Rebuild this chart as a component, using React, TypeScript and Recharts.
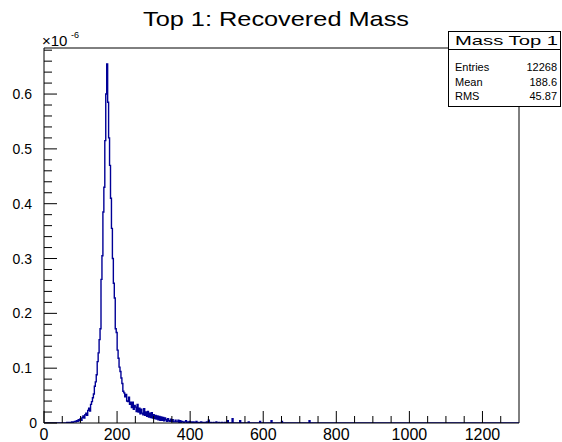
import React from "react"
import { LineChart, Line, XAxis, YAxis, ReferenceLine } from "recharts"

// histogram binning: 500 bins over 0..1300
const binWidth = 2.6
const nBins = 500
const xMax = 1300
const yMax = 0.684

// bin contents (units of 1e-6), starting at bin 23 (m = 59.8)
const firstBin = 23
const binValues = [
  0.000, 0.001, 0.000, 0.001, 0.000, 0.001, 0.002, 0.001, 0.002, 0.003,
  0.002, 0.004, 0.003, 0.006, 0.004, 0.008, 0.005, 0.010, 0.013, 0.009,
  0.015, 0.018, 0.014, 0.023, 0.027, 0.022, 0.034, 0.039, 0.046, 0.053,
  0.067, 0.075, 0.088, 0.112, 0.128, 0.152, 0.172, 0.262, 0.305, 0.385,
  0.430, 0.515, 0.600, 0.655, 0.585, 0.520, 0.470, 0.410, 0.355, 0.300,
  0.255, 0.228, 0.172, 0.165, 0.133, 0.118, 0.102, 0.094, 0.082, 0.072,
  0.058, 0.055, 0.048, 0.052, 0.040, 0.039, 0.047, 0.034, 0.038, 0.028,
  0.038, 0.025, 0.032, 0.029, 0.021, 0.034, 0.020, 0.027, 0.017, 0.025,
  0.018, 0.015, 0.026, 0.014, 0.020, 0.012, 0.021, 0.011, 0.018, 0.010,
  0.019, 0.009, 0.015, 0.008, 0.014, 0.007, 0.013, 0.006, 0.012, 0.005,
  0.011, 0.005, 0.010, 0.004, 0.009, 0.006, 0.003, 0.008, 0.004, 0.003,
  0.007, 0.003, 0.006, 0.002, 0.002, 0.005, 0.002, 0.002, 0.005, 0.001,
  0.004, 0.001, 0.003, 0.002, 0.001, 0.002, 0.004, 0.001, 0.002, 0.001,
  0.003, 0.000, 0.002, 0.001, 0.002, 0.000, 0.001, 0.003, 0.000, 0.001,
  0.001, 0.000, 0.002, 0.000, 0.001, 0.000, 0.001, 0.000, 0.002, 0.000,
  0.005, 0.000, 0.001, 0.000, 0.000, 0.001, 0.000, 0.000, 0.002, 0.000,
  0.000, 0.001, 0.000, 0.000, 0.001, 0.000, 0.000, 0.001,
]

// isolated entries far in the tail
const tailBins = [193, 198, 206, 215, 227, 239, 250, 279]
const tailValues = [0.004, 0.008, 0.004, 0.002, 0.003, 0.004, 0.003, 0.004]

const xMajorTicks = [0, 200, 400, 600, 800, 1000, 1200]
const xMinorTicks = [
  50, 100, 150, 250, 300, 350, 450, 500, 550, 650, 700, 750,
  850, 900, 950, 1050, 1100, 1150, 1250,
]
const yMajorTicks = [0, 0.1, 0.2, 0.3, 0.4, 0.5, 0.6]
const yMinorTicks = [
  0.02, 0.04, 0.06, 0.08, 0.12, 0.14, 0.16, 0.18, 0.22, 0.24, 0.26, 0.28,
  0.32, 0.34, 0.36, 0.38, 0.42, 0.44, 0.46, 0.48, 0.52, 0.54, 0.56, 0.58,
  0.62, 0.64, 0.66, 0.68,
]

const statsTitle = "Mass Top 1"
const statsRows = [
  ["Entries", "12268"],
  ["Mean", "188.6"],
  ["RMS", "45.87"],
]

const font = "'Liberation Sans', Arial, Helvetica, sans-serif"
const histColor = "#000096"

function buildData() {
  const vals: number[] = new Array(nBins).fill(0)
  binValues.forEach((v, i) => {
    vals[firstBin + i] = v
  })
  tailBins.forEach((b, i) => {
    vals[b] = tailValues[i]
  })
  const rows = vals.map((v, i) => ({ m: Math.round(i * binWidth * 100) / 100, v }))
  rows.push({ m: xMax, v: 0 })
  return rows
}

const isMajorY = (v: number) => yMajorTicks.some((t) => Math.abs(t - v) < 1e-9)

function XTick(props: any) {
  const { x, y, payload } = props
  const major = xMajorTicks.includes(payload.value)
  return (
    <g>
      <line x1={x} x2={x} y1={y} y2={y - (major ? 12 : 7)} stroke="#000" strokeWidth={1} />
      {major && (
        <text x={x} y={y + 17} textAnchor="middle" fontSize={16} fontFamily={font} fill="#000">
          {payload.value}
        </text>
      )}
    </g>
  )
}

function YTick(props: any) {
  const { x, y, payload } = props
  const v = payload.value
  const major = isMajorY(v)
  return (
    <g>
      <line x1={x} x2={x + (major ? 13 : 8)} y1={y} y2={y} stroke="#000" strokeWidth={1} />
      {major && (
        <text
          x={v === 0 ? x - 7 : x - 12}
          y={y}
          dy="0.36em"
          textAnchor="end"
          fontSize={14}
          fontFamily={font}
          fill="#000"
        >
          {v === 0 ? "0" : v.toFixed(1)}
        </text>
      )}
    </g>
  )
}

export default function App() {
  const data = buildData()
  const xTicks = [...xMajorTicks, ...xMinorTicks].sort((a, b) => a - b)
  const yTicks = [...yMajorTicks, ...yMinorTicks].sort((a, b) => a - b)

  return (
    <div style={{ position: "absolute", left: 0, top: 0, width: 562, height: 442, background: "#fff" }}>
      <LineChart width={562} height={442} data={data} margin={{ top: 48, right: 43, bottom: 0, left: 0 }}>
        <XAxis
          dataKey="m"
          type="number"
          domain={[0, xMax]}
          ticks={xTicks}
          interval={0}
          height={19}
          tickSize={0}
          tickMargin={0}
          tickLine={false}
          axisLine={{ stroke: "#000" }}
          tick={<XTick />}
          allowDataOverflow
        />
        <YAxis
          type="number"
          domain={[0, yMax]}
          ticks={yTicks}
          interval={0}
          width={44}
          tickSize={0}
          tickMargin={0}
          tickLine={false}
          axisLine={{ stroke: "#000" }}
          tick={<YTick />}
          allowDataOverflow
        />
        <ReferenceLine y={yMax} stroke="#000" />
        <ReferenceLine x={xMax} stroke="#000" />
        <Line
          dataKey="v"
          type="stepAfter"
          stroke={histColor}
          strokeWidth={1.4}
          dot={false}
          activeDot={false}
          isAnimationActive={false}
        />
      </LineChart>

      <svg
        width={562}
        height={442}
        style={{ position: "absolute", left: 0, top: 0, pointerEvents: "none" }}
        fontFamily={font}
      >
        <text x={143} y={26} fontSize={21} textLength={266} lengthAdjust="spacingAndGlyphs" fill="#000">
          Top 1: Recovered Mass
        </text>
        <text x={42} y={46} fontSize={15} fill="#000">
          ×10
        </text>
        <text x={71} y={38} fontSize={9} fill="#000">
          -6
        </text>

        <rect x={448.5} y={31.5} width={112} height={75} fill="#fff" stroke="#000" />
        <line x1={448.5} x2={560.5} y1={49.5} y2={49.5} stroke="#000" />
        <text x={455} y={45} fontSize={13.5} textLength={103} lengthAdjust="spacingAndGlyphs" fill="#000">
          {statsTitle}
        </text>
        {statsRows.map(([k, val], i) => (
          <g key={k}>
            <text x={455} y={71 + i * 14.5} fontSize={11} fill="#000">
              {k}
            </text>
            <text x={557} y={71 + i * 14.5} fontSize={11} textAnchor="end" fill="#000">
              {val}
            </text>
          </g>
        ))}
      </svg>
    </div>
  )
}
